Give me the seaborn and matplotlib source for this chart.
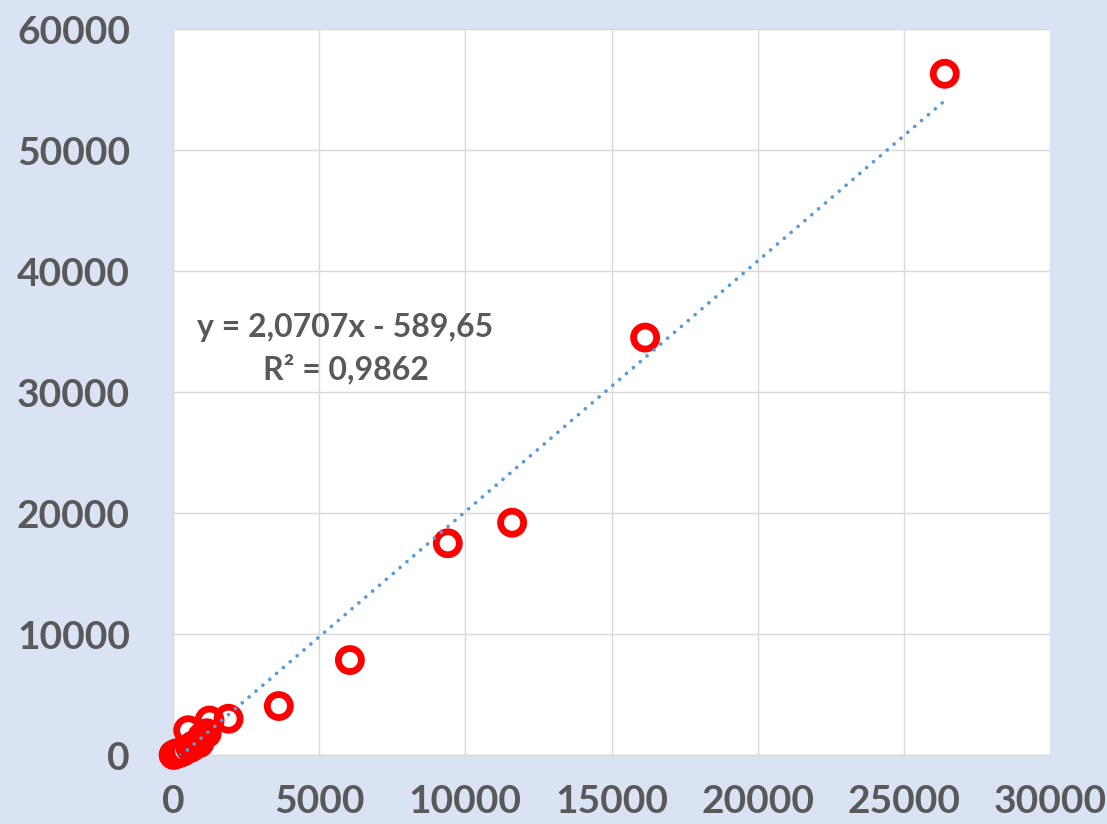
import numpy as np
import pandas as pd
import matplotlib
matplotlib.use("Agg")
import matplotlib.pyplot as plt
import seaborn as sns

# ==================================================
# DATA
# ==================================================

x_vals = [26400, 16150, 11600, 9400, 6050, 3620, 1900, 1250, 1150,
          520, 900, 1000, 600, 700, 350, 250, 150, 100, 50, 20]
y_vals = [56300, 34500, 19200, 17500, 7850, 4050, 3000, 2850, 1800,
          2050, 1000, 1500, 600, 800, 300, 200, 150, 100, 50, 10]

slope = 2.0707
intercept = -589.65
r_squared = 0.9862

x_ticks = [0, 5000, 10000, 15000, 20000, 25000, 30000]
y_ticks = [0, 10000, 20000, 30000, 40000, 50000, 60000]

df = pd.DataFrame({"x": x_vals, "y": y_vals})

# ==================================================
# STYLE
# ==================================================

sns.set_style("white")
plt.rcParams["font.family"] = ["Lato", "DejaVu Sans"]

BG = "#DAE3F3"
GREY = "#595959"

fig = plt.figure(figsize=(11.07, 8.24), dpi=100, facecolor=BG)
ax = fig.add_axes([0.1563, 0.0837, 0.7922, 0.8811])
ax.set_facecolor("white")

# ==================================================
# PLOT
# ==================================================

sns.scatterplot(
    data=df, x="x", y="y", ax=ax,
    s=275, marker="o",
    facecolors="none", edgecolor="#FF0000", linewidth=4.9,
    zorder=3, clip_on=False
)

trend = pd.DataFrame({"x": [min(x_vals), max(x_vals)]})
trend["y"] = slope * trend["x"] + intercept

sns.lineplot(
    data=trend, x="x", y="y", ax=ax,
    color="#5B9BD5", linewidth=2.7,
    linestyle=(0, (0.01, 2.4)), dash_capstyle="round",
    zorder=4
)

ax.text(
    5900, 35300,
    f"y = {slope:.4f}x - {abs(intercept):.2f}".replace(".", ","),
    ha="center", va="center", fontsize=23, fontweight="bold", color=GREY
)
ax.text(
    5900, 31900,
    f"R² = {r_squared:.4f}".replace(".", ","),
    ha="center", va="center", fontsize=23, fontweight="bold", color=GREY
)

ax.set_xlim(0, 30000)
ax.set_ylim(0, 60000)
ax.set_xticks(x_ticks)
ax.set_yticks(y_ticks)
ax.set_xticklabels([str(t) for t in x_ticks])
ax.set_yticklabels([str(t) for t in y_ticks])

ax.grid(True, color="#D9D9D9", linewidth=1.0)
ax.set_axisbelow(True)

for side in ["top", "right"]:
    ax.spines[side].set_visible(False)
for side in ["left", "bottom"]:
    ax.spines[side].set_color("#D9D9D9")
    ax.spines[side].set_linewidth(1.0)

ax.tick_params(axis="both", length=0, labelsize=28, labelcolor=GREY)
ax.tick_params(axis="y", pad=31)
ax.tick_params(axis="x", pad=21)
for lab in ax.get_xticklabels() + ax.get_yticklabels():
    lab.set_fontweight("bold")

ax.set_xlabel("")
ax.set_ylabel("")

fig.savefig("out.png", dpi=100, facecolor=BG)
